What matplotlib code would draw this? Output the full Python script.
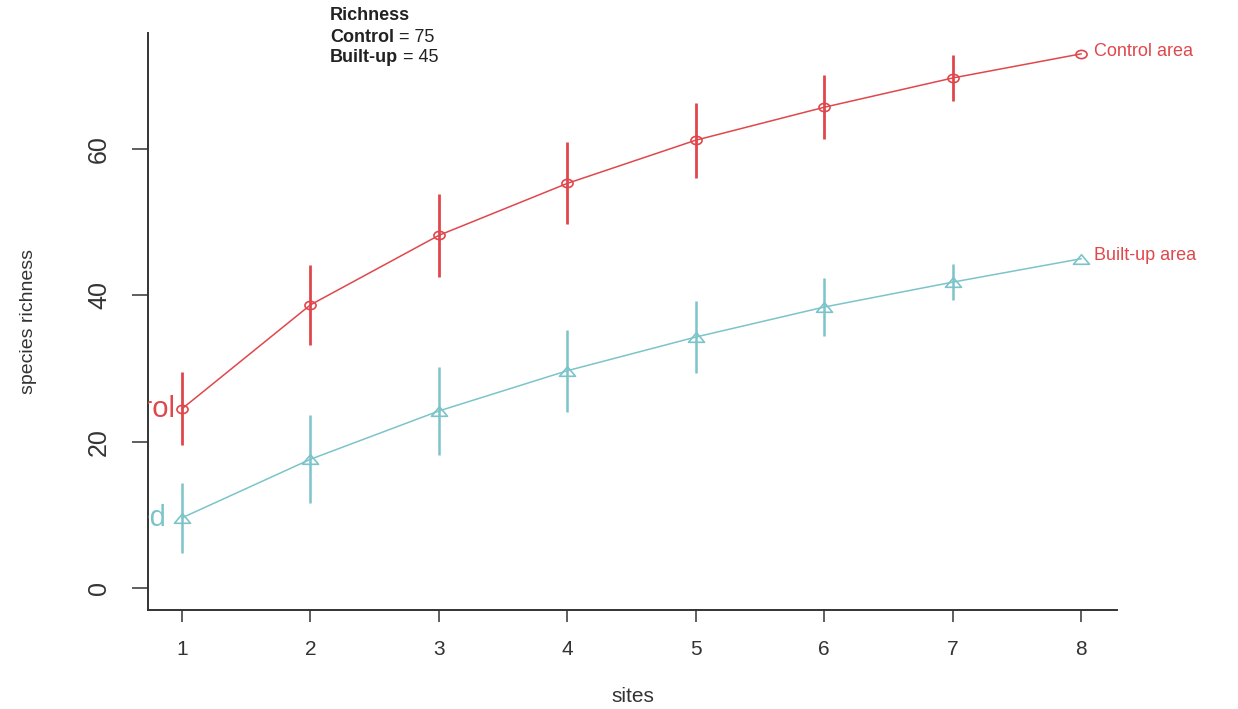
import matplotlib
matplotlib.use("Agg")
import matplotlib.pyplot as plt
from matplotlib.path import Path
from matplotlib.transforms import Affine2D

# species accumulation values
sites = [1, 2, 3, 4, 5, 6, 7, 8]
control_mean = [24.5, 38.7, 48.2, 55.3, 61.2, 65.7, 69.7, 73.0]
control_sd = [5.0, 5.5, 5.7, 5.6, 5.1, 4.4, 3.2, 0.0]
builtup_mean = [9.6, 17.6, 24.2, 29.7, 34.3, 38.4, 41.8, 45.0]
builtup_sd = [4.8, 6.0, 6.0, 5.6, 4.9, 4.0, 2.5, 0.0]
yticks = [0, 20, 40, 60]
end_labels = ["Control area", "Built-up area"]
start_labels = ["Control", "Urbanised"]
richness_title = "Richness"
richness_lines = [("Control", " = 75"), ("Built-up", " = 45")]

red = "#e0474c"
teal = "#7cc4c9"
ink = "#333333"

plt.rcParams["font.family"] = ["Liberation Sans", "DejaVu Sans"]

# squashed circle / triangle markers like the reference
circle = Path.unit_circle().transformed(Affine2D().scale(1.35, 1.0))
tri = Path([(-1.0, -0.6), (1.0, -0.6), (0.0, 0.6), (-1.0, -0.6)],
           [Path.MOVETO, Path.LINETO, Path.LINETO, Path.CLOSEPOLY])

fig = plt.figure(figsize=(12.38, 7.09), dpi=100)
ax = fig.add_axes([148/1238, 99/709, (1117-148)/1238, (610-33)/709])

ax.errorbar(sites[:-1], control_mean[:-1], yerr=control_sd[:-1], fmt="none",
            ecolor=red, elinewidth=2.0, capsize=0)
ax.plot(sites, control_mean, color=red, lw=1.1, marker=circle, ms=8,
        mfc="none", mec=red, mew=1.2)
ax.errorbar(sites[:-1], builtup_mean[:-1], yerr=builtup_sd[:-1], fmt="none",
            ecolor=teal, elinewidth=1.8, capsize=0)
ax.plot(sites, builtup_mean, color=teal, lw=1.1, marker=tri, ms=11.5,
        mfc="none", mec=teal, mew=1.2)

ax.set_xlim(0.735, 8.28)
ax.set_ylim(-3.0, 75.85)
ax.set_xticks(sites)
ax.set_yticks(yticks)

# labels at the series ends
for lab, y in zip(end_labels, [control_mean[-1], builtup_mean[-1]]):
    ax.annotate(lab, xy=(sites[-1], y), xytext=(9, 2), textcoords="offset points",
                ha="left", va="center", color=red, fontsize=13, annotation_clip=False)
# labels at the series starts, clipped by the axes like in the reference
for lab, y, c, dx in zip(start_labels, [control_mean[0], builtup_mean[0]], [red, teal], [-5, -11]):
    ax.annotate(lab, xy=(sites[0], y), xytext=(dx, 0), textcoords="offset points",
                ha="right", va="center", color=c, fontsize=21, clip_on=True)

for side in ["top", "right"]:
    ax.spines[side].set_visible(False)
for side in ["left", "bottom"]:
    ax.spines[side].set_color(ink)
    ax.spines[side].set_linewidth(1.4)

ax.tick_params(axis="y", length=11.5, width=1.1, color=ink, pad=15, labelsize=18,
               labelrotation=90, labelcolor=ink)
ax.tick_params(axis="x", length=8.5, width=1.1, color=ink, pad=13, labelsize=15,
               labelcolor=ink)
for lab in ax.get_yticklabels():
    lab.set_va("center")

ax.set_xlabel("sites", fontsize=15, color=ink, labelpad=20)
ax.set_ylabel("species richness", fontsize=14, color=ink, labelpad=36)

# top annotation block
x0 = 330/1238
fig.text(x0, 1 - 16/709, richness_title, fontsize=13, fontweight="bold",
         color="#222222", va="center", ha="left")
for i, (bold, rest) in enumerate(richness_lines):
    t = fig.text(x0, 1 - (37 + 21*i)/709, bold, fontsize=13, fontweight="bold",
                 color="#222222", va="center", ha="left")
    ax.annotate(rest, xy=(1, 0.5), xycoords=t, va="center", ha="left",
                fontsize=13, color="#222222", annotation_clip=False)

fig.savefig("out.png", dpi=100)
